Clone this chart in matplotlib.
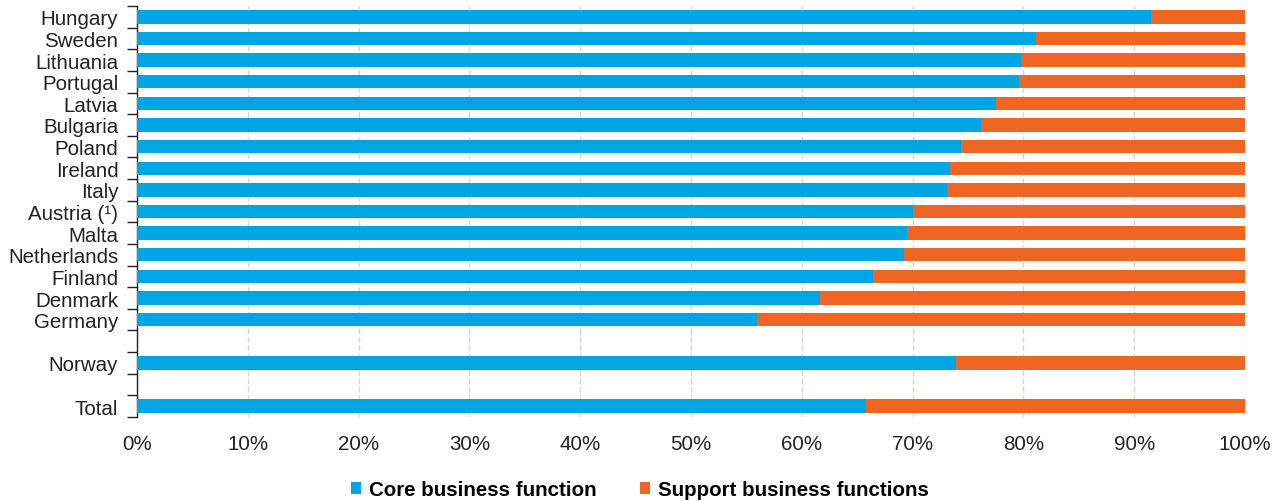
import matplotlib
matplotlib.use("Agg")
import matplotlib.pyplot as plt
from matplotlib.patches import Patch
import numpy as np

plt.rcParams['font.family'] = ['Liberation Sans', 'DejaVu Sans']

# Share of enterprises' employment by business function (%)
countries = ["Hungary", "Sweden", "Lithuania", "Portugal", "Latvia", "Bulgaria",
             "Poland", "Ireland", "Italy", "Austria (\u00b9)", "Malta", "Netherlands",
             "Finland", "Denmark", "Germany", "Norway", "Total"]
core = [91.5, 81.1, 79.8, 79.6, 77.5, 76.2, 74.4, 73.4, 73.1,
        70.0, 69.5, 69.2, 66.4, 61.6, 56.0, 73.9, 65.8]
support = [100 - v for v in core]

# slot index of each category; blank slots separate Norway and Total
slots = list(range(15)) + [16, 18]

BLUE = "#00A5E3"
ORANGE = "#EE6524"
FS = 14.8

fig = plt.figure(figsize=(12.8, 5.02), dpi=100)
ax = fig.add_axes([137 / 1280, 1 - 418 / 502, (1245 - 137) / 1280, (418 - 7) / 502])

ax.barh(slots, core, height=0.62, color=BLUE, zorder=3)
ax.barh(slots, support, left=core, height=0.62, color=ORANGE, zorder=3)

ax.set_xlim(0, 100)
ax.set_ylim(18.5, -0.5)

ax.set_xticks(np.arange(0, 101, 10))
ax.set_xticklabels([f"{t}%" for t in range(0, 101, 10)], fontsize=FS, color="#222222")
ax.tick_params(axis="x", length=0, pad=12.5)
ax.xaxis.grid(True, color="#d6d6d6", linestyle=(0, (4, 2)), linewidth=1.0, zorder=0)

ax.set_yticks(slots)
ax.set_yticklabels(countries, fontsize=FS, color="#222222")
ax.tick_params(axis="y", which="major", length=0, pad=13.5)
ax.set_yticks(np.arange(-0.5, 19, 1), minor=True)
ax.tick_params(axis="y", which="minor", length=7, width=1, color="#222222", direction="out")

for side in ("top", "right", "bottom"):
    ax.spines[side].set_visible(False)
ax.spines["left"].set_color("#222222")
ax.spines["left"].set_linewidth(1)

handles = [Patch(facecolor=BLUE, label="Core business function"),
           Patch(facecolor=ORANGE, label="Support business functions")]
fig.legend(handles=handles, loc="center", bbox_to_anchor=(0.5, 1 - 491 / 502),
           ncol=2, frameon=False, handlelength=0.5, handleheight=0.55,
           handletextpad=0.4, columnspacing=2.1,
           prop={"size": FS, "weight": "bold"})

fig.savefig("out.png", dpi=100)
